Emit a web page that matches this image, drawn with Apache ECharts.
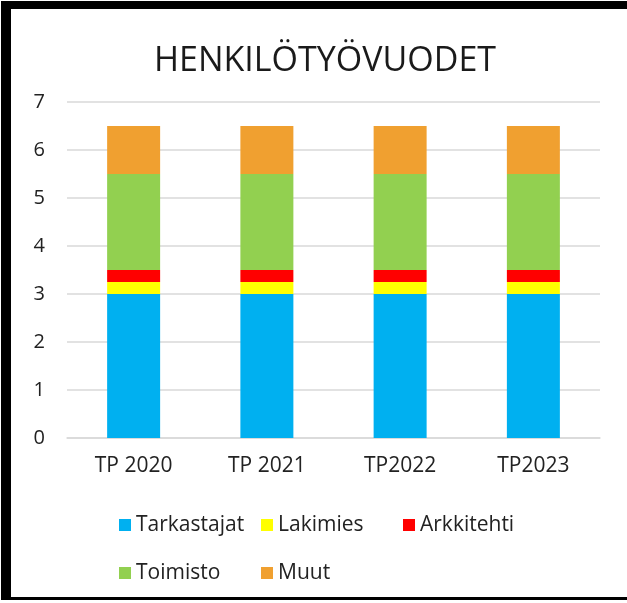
<!DOCTYPE html>
<html>
<head>
<meta charset="utf-8">
<script src="https://cdn.jsdelivr.net/npm/echarts@6/dist/echarts.min.js"></script>
<style>
  html, body { margin: 0; padding: 0; background: #fff; }
  .frame {
    position: absolute; left: 1px; top: 1px; width: 626px; height: 599px;
    box-sizing: border-box;
    border-left: 10px solid #000; border-top: 8px solid #000; border-bottom: 3px solid #000;
    pointer-events: none;
  }
  #myChart { position: absolute; left: 0; top: 0; width: 627px; height: 603px; }
</style>
</head>
<body>
<div id="myChart"></div>
<div class="frame"></div>
<script>
  // henkilötyövuodet
  var categories = ['TP 2020', 'TP 2021', 'TP2022', 'TP2023'];
  var seriesNames = ['Tarkastajat', 'Lakimies', 'Arkkitehti', 'Toimisto', 'Muut'];
  var tarkastajat = [3, 3, 3, 3];
  var lakimies = [0.25, 0.25, 0.25, 0.25];
  var arkkitehti = [0.25, 0.25, 0.25, 0.25];
  var toimisto = [2, 2, 2, 2];
  var muut = [1, 1, 1, 1];
  var colors = ['#00B0F0', '#FFFF00', '#FF0000', '#92D050', '#F0A030'];

  var font = '"Open Sans", "Liberation Sans", sans-serif';
  var values = [tarkastajat, lakimies, arkkitehti, toimisto, muut];

  var series = seriesNames.map(function (name, i) {
    return {
      name: name,
      type: 'bar',
      stack: 'total',
      barWidth: 53,
      animation: false,
      itemStyle: { color: colors[i] },
      data: values[i]
    };
  });

  var legendText = { fontFamily: font, fontSize: 21, color: '#222', width: 113, lineHeight: 24 };

  var myChart = echarts.init(document.getElementById('myChart'));
  var option = {
    title: {
      text: 'HENKILÖTYÖVUODET',
      left: 320,
      textAlign: 'center',
      top: 39,
      textStyle: { fontFamily: font, fontSize: 34, fontWeight: 'normal', color: '#1a1a1a' }
    },
    legend: [{
      data: seriesNames.slice(0, 3),
      left: 114,
      top: 508,
      icon: 'rect',
      itemWidth: 12,
      itemHeight: 12,
      itemGap: 12,
      itemTextGap: 10,
      textStyle: legendText
    }, {
      data: seriesNames.slice(3),
      left: 114,
      top: 556,
      icon: 'rect',
      itemWidth: 12,
      itemHeight: 12,
      itemGap: 12,
      itemTextGap: 10,
      textStyle: legendText
    }],
    grid: {
      left: 67,
      right: 27,
      top: 102,
      bottom: 165,
      containLabel: false
    },
    xAxis: {
      type: 'category',
      data: categories,
      axisLine: { lineStyle: { color: '#D9D9D9', width: 1.5 } },
      axisTick: { show: false },
      axisLabel: { fontFamily: font, fontSize: 21, color: '#222', margin: 18 }
    },
    yAxis: {
      type: 'value',
      min: 0,
      max: 7,
      interval: 1,
      axisLine: { show: false },
      axisTick: { show: false },
      axisLabel: { fontFamily: font, fontSize: 20, color: '#222', margin: 22 },
      splitLine: { lineStyle: { color: '#D9D9D9', width: 1.5 } }
    },
    series: series
  };
  myChart.setOption(option);
</script>
</body>
</html>
